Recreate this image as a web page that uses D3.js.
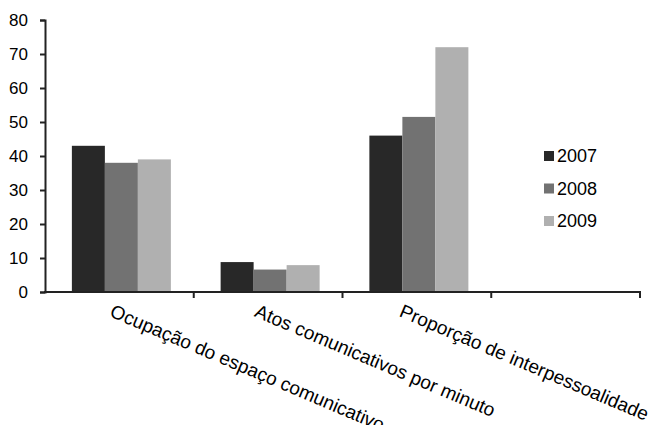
<!DOCTYPE html>
<html>
<head>
<meta charset="utf-8">
<script src="https://cdn.jsdelivr.net/npm/d3@7"></script>
<style>
  body { margin: 0; background: #fff; }
  text { font-family: "Liberation Sans", Arial, sans-serif; fill: #000; }
</style>
</head>
<body>
<script>
// chart values
var categories = ["Ocupação do espaço comunicativo", "Atos comunicativos por minuto", "Proporção de interpessoalidade", ""];
var years = ["2007", "2008", "2009"];
var v2007 = [43, 8.8, 46];
var v2008 = [38, 6.6, 51.5];
var v2009 = [39, 7.9, 72];
var yTicks = [0, 10, 20, 30, 40, 50, 60, 70, 80];

var colors = { "2007": "#282828", "2008": "#727272", "2009": "#b0b0b0" };
var series = [v2007, v2008, v2009];

var W = 655, H = 425;
var margin = { left: 45, top: 20, right: 15 };
var plotH = 272;

var svg = d3.select("body").append("svg")
    .attr("width", W)
    .attr("height", H);

var x = d3.scaleBand().domain(categories.map((c, i) => i)).range([margin.left, 640]);
var inner = d3.scaleBand().domain(years).range([0, 99]);
var y = d3.scaleLinear().domain([0, 80]).range([margin.top + plotH, margin.top]);

// bars
years.forEach(function (yr, s) {
    svg.append("g").selectAll("rect")
        .data(series[s])
        .enter()
        .append("rect")
        .attr("x", (d, i) => x(i) + (x.bandwidth() - 99) / 2 + 2 + inner(yr))
        .attr("y", (d) => y(d))
        .attr("width", inner.bandwidth())
        .attr("height", (d) => y(0) - y(d))
        .attr("fill", colors[yr]);
});

// y axis
var yAxis = d3.axisLeft(y).tickValues(yTicks).tickSize(5).tickPadding(7);
var gy = svg.append("g")
    .attr("transform", "translate(" + margin.left + ",0)")
    .call(yAxis);
gy.select(".domain").attr("stroke", "#222").attr("stroke-width", 2);
gy.selectAll(".tick line").attr("stroke", "#222").attr("stroke-width", 2);
gy.selectAll(".tick text").attr("font-size", 17).attr("fill", "#000").attr("x", -17)
    .style("font-family", "Liberation Sans, Arial, sans-serif");

// x axis, ticks between categories
var xAxisLine = svg.append("g");
xAxisLine.append("line")
    .attr("x1", margin.left - 1).attr("x2", x.range()[1] + 1)
    .attr("y1", y(0)).attr("y2", y(0))
    .attr("stroke", "#222").attr("stroke-width", 2);
xAxisLine.selectAll("line.tk")
    .data(categories.map((c, i) => i))
    .enter()
    .append("line")
    .attr("class", "tk")
    .attr("x1", (i) => x(i) + x.bandwidth())
    .attr("x2", (i) => x(i) + x.bandwidth())
    .attr("y1", y(0)).attr("y2", y(0) + 6)
    .attr("stroke", "#222").attr("stroke-width", 2);

// rotated category labels
svg.append("g").selectAll("text")
    .data(categories)
    .enter()
    .append("text")
    .attr("transform", (d, i) => "translate(" + (x(i) + x.bandwidth() / 2 - 5 - 4 * i) + "," + (y(0) + 11) + ") rotate(23)")
    .attr("font-size", 19)
    .attr("dy", "0.75em")
    .text((d) => d);

// legend
var lg = svg.append("g").attr("transform", "translate(544,156)");
years.forEach(function (yr, i) {
    lg.append("rect")
        .attr("x", 0).attr("y", i * 32.5 - 5)
        .attr("width", 10).attr("height", 10)
        .attr("fill", colors[yr]);
    lg.append("text")
        .attr("x", 13).attr("y", i * 32.5)
        .attr("dy", "0.36em")
        .attr("font-size", 18)
        .text(yr);
});
</script>
</body>
</html>
